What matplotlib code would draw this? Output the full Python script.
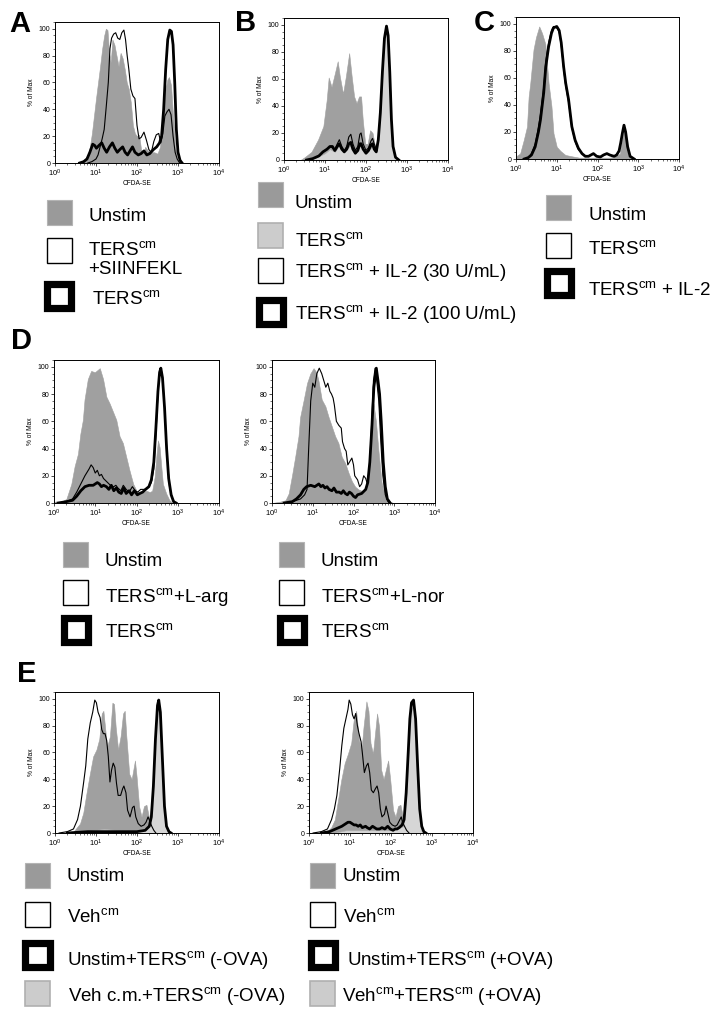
import numpy as np
import matplotlib
matplotlib.use("Agg")
import matplotlib.pyplot as plt
from matplotlib.patches import Rectangle
from matplotlib.ticker import LogLocator, LogFormatterMathtext, MultipleLocator, NullFormatter

W, H = 715, 1013

DARK = "#a0a0a0"      # Unstim fill
DARK_SQ = "#9a9a9a"
LIGHT = "#d6d6d6"     # light gray fill
LIGHT_EDGE = "#b0b0b0"

plt.rcParams.update(
    {
        "font.family": ["Liberation Sans", "DejaVu Sans"],
        "mathtext.fontset": "custom",
        "mathtext.rm": "Liberation Sans",
        "mathtext.it": "Liberation Sans:italic",
        "mathtext.bf": "Liberation Sans:bold",
        "axes.linewidth": 0.7,
        "xtick.direction": "out",
        "ytick.direction": "out",
    }
)

# ---- data: log10(CFDA-SE) positions and % of Max values ----
# A
A_UNSTIM_LX = [0.55, 0.65, 0.73, 0.8, 0.85, 0.9, 0.95, 1.0, 1.05, 1.1, 1.15, 1.2, 1.24, 1.28, 1.32, 1.36, 1.4,
               1.45, 1.5, 1.55, 1.6, 1.65, 1.7, 1.75, 1.8, 1.85, 1.9, 1.95, 2.0, 2.05, 2.1, 2.15, 2.2, 2.27,
               2.35, 2.42, 2.5, 2.56, 2.62, 2.68, 2.74, 2.78, 2.83, 2.88, 2.93, 2.98, 3.05]
A_UNSTIM_Y = [0, 1, 3, 6, 12, 22, 35, 48, 60, 72, 85, 95, 100, 99, 82, 75, 92, 88, 80, 72, 82, 78, 70, 60, 55,
              45, 28, 22, 20, 21, 10, 7, 12, 9, 8, 8, 7, 12, 28, 52, 62, 64, 58, 35, 12, 3, 0]
A_THIN_LX = [0.8, 0.9, 1.0, 1.05, 1.1, 1.15, 1.2, 1.25, 1.3, 1.34, 1.38, 1.43, 1.48, 1.53, 1.58, 1.63, 1.68,
             1.72, 1.76, 1.8, 1.85, 1.9, 1.95, 2.0, 2.05, 2.1, 2.17, 2.23, 2.29, 2.35, 2.41, 2.47, 2.53, 2.58,
             2.63, 2.68, 2.73, 2.78, 2.83, 2.88, 2.93, 2.98, 3.04]
A_THIN_Y = [0, 1, 3, 6, 12, 18, 25, 42, 60, 85, 93, 96, 97, 93, 92, 97, 99, 92, 80, 70, 55, 50, 48, 28, 18, 19,
            23, 17, 10, 8, 16, 21, 22, 15, 22, 35, 38, 40, 36, 20, 8, 3, 0]
A_THICK_LX = [0.6, 0.7, 0.78, 0.85, 0.92, 0.97, 1.01, 1.07, 1.14, 1.2, 1.26, 1.33, 1.4, 1.46, 1.52, 1.58, 1.65,
              1.71, 1.77, 1.83, 1.89, 1.95, 2.03, 2.1, 2.17, 2.24, 2.31, 2.4, 2.48, 2.55, 2.6, 2.65, 2.7, 2.75,
              2.8, 2.84, 2.88, 2.92, 2.96, 3.0, 3.05, 3.1]
A_THICK_Y = [0, 1, 3, 8, 14, 13, 11, 13, 15, 11, 8, 12, 15, 11, 8, 10, 12, 8, 6, 9, 12, 8, 6, 7, 9, 6, 7, 10,
             12, 15, 20, 40, 70, 92, 99, 98, 88, 60, 25, 8, 2, 0]

# B
B_UNSTIM_LX = [0.4, 0.5, 0.67, 0.83, 0.96, 1.04, 1.09, 1.16, 1.24, 1.31, 1.36, 1.44, 1.51, 1.59, 1.65, 1.71,
               1.77, 1.83, 1.88, 1.92, 1.98, 2.04, 2.1, 2.16, 2.22, 2.3, 2.36, 2.42]
B_UNSTIM_Y = [0, 2, 6, 15, 25, 44, 61, 54, 64, 73, 62, 49, 62, 79, 62, 47, 42, 47, 47, 30, 12, 12, 22, 20, 10,
              10, 5, 0]
B_TERS_LX = [0.6, 0.8, 1.0, 1.12, 1.24, 1.35, 1.47, 1.63, 1.74, 1.87, 2.0, 2.16, 2.25, 2.3, 2.35, 2.4, 2.45,
             2.5, 2.54, 2.58, 2.62, 2.66, 2.72, 2.8]
B_TERS_Y = [0, 2, 5, 8, 6, 11, 6, 11, 6, 11, 5, 10, 6, 14, 33, 63, 88, 97, 90, 62, 28, 9, 2, 0]
B_IL30_LX = [0.55, 0.7, 0.85, 0.95, 1.05, 1.12, 1.18, 1.24, 1.3, 1.35, 1.41, 1.47, 1.53, 1.58, 1.63, 1.68,
             1.74, 1.8, 1.85, 1.88, 1.93, 2.0, 2.06, 2.12, 2.16, 2.2, 2.25, 2.3, 2.35, 2.4, 2.45, 2.5, 2.54,
             2.58, 2.62, 2.66, 2.72, 2.8]
B_IL30_Y = [0, 1, 3, 6, 8, 10, 9, 8, 12, 15, 10, 7, 10, 17, 19, 12, 7, 10, 19, 20, 12, 7, 9, 14, 16, 12, 8, 15,
            35, 65, 90, 98, 92, 65, 30, 10, 2, 0]
B_IL100_LX = B_IL30_LX
B_IL100_Y = [0, 1, 3, 6, 8, 10, 10, 7, 10, 12, 8, 6, 8, 12, 13, 8, 5, 7, 12, 12, 8, 5, 7, 11, 12, 8, 6, 15, 35,
             65, 90, 99, 92, 65, 30, 10, 2, 0]

# C
C_UNSTIM_LX = [0.0, 0.1, 0.19, 0.27, 0.31, 0.35, 0.43, 0.49, 0.57, 0.64, 0.72, 0.8, 0.87, 0.92, 1.0, 1.09,
               1.21, 1.37, 1.55, 1.75, 1.9, 2.1, 2.3, 2.45, 2.55, 2.6, 2.65, 2.7, 2.75, 2.82]
C_UNSTIM_Y = [2, 4, 14, 24, 46, 56, 81, 90, 98, 93, 85, 56, 39, 19, 9, 6, 3, 2, 1, 1, 1, 1, 1, 2, 4, 14, 21,
              12, 3, 0]
C_LX = [0.2, 0.3, 0.38, 0.47, 0.55, 0.6, 0.68, 0.73, 0.8, 0.87, 0.92, 1.0, 1.06, 1.11, 1.17, 1.22, 1.29, 1.37,
        1.45, 1.53, 1.62, 1.7, 1.78, 1.84, 1.9, 1.98, 2.07, 2.15, 2.23, 2.3, 2.35, 2.41, 2.47, 2.53, 2.57, 2.61,
        2.65, 2.69, 2.74, 2.8, 2.9]
C_TERS_Y = [0, 1, 4, 11, 23, 33, 53, 72, 86, 95, 98, 97, 94, 84, 66, 54, 42, 23, 13, 7, 4, 2, 2, 3, 4, 2, 1.5,
            3, 4, 3, 2.5, 2, 3, 6, 12, 19, 24, 19, 8, 2, 0]
C_IL2_Y = [0, 1, 3, 9, 20, 29, 49, 68, 83, 93, 97, 98, 95, 86, 68, 56, 44, 24, 14, 8, 4, 2, 2, 3, 4, 2, 1.5, 3,
           4, 3, 2.5, 2, 3, 6, 12, 19, 25, 20, 9, 2, 0]

# D (left: L-arg, right: L-nor)
D1_UNSTIM_LX = [0.0, 0.18, 0.3, 0.42, 0.5, 0.58, 0.64, 0.7, 0.74, 0.82, 0.9, 0.99, 1.07, 1.11, 1.19, 1.27,
                1.35, 1.43, 1.51, 1.59, 1.67, 1.75, 1.83, 1.92, 2.0, 2.08, 2.16, 2.24, 2.32, 2.38, 2.44, 2.48,
                2.52, 2.56, 2.6, 2.64, 2.72, 2.8, 2.88]
D1_UNSTIM_Y = [1, 1, 3, 14, 27, 36, 51, 61, 76, 91, 97, 96, 98, 99, 91, 78, 73, 67, 61, 49, 44, 34, 24, 14, 9,
               7, 8, 9, 8, 9, 19, 34, 46, 41, 27, 14, 7, 2, 0]
D1_LARG_LX = [0.1, 0.3, 0.45, 0.55, 0.65, 0.75, 0.85, 0.9, 0.95, 1.0, 1.05, 1.1, 1.15, 1.2, 1.3, 1.4, 1.45,
              1.5, 1.55, 1.62, 1.68, 1.75, 1.82, 1.9, 1.97, 2.03, 2.1, 2.2, 2.3, 2.36, 2.42, 2.47, 2.52, 2.56,
              2.6, 2.64, 2.69, 2.74, 2.8, 2.88, 2.95]
D1_LARG_Y = [0, 1, 3, 8, 14, 20, 25, 28, 26, 22, 24, 20, 21, 18, 15, 12, 12, 13, 11, 9, 13, 10, 8, 12, 9, 8, 10,
             10, 12, 15, 25, 50, 80, 96, 98, 90, 65, 35, 12, 2, 0]
D1_TERS_LX = [0.1, 0.3, 0.45, 0.55, 0.65, 0.75, 0.85, 0.95, 1.0, 1.05, 1.1, 1.15, 1.2, 1.27, 1.33, 1.39, 1.45,
              1.51, 1.57, 1.63, 1.69, 1.75, 1.82, 1.88, 1.95, 2.02, 2.08, 2.15, 2.22, 2.3, 2.36, 2.42, 2.47,
              2.52, 2.56, 2.59, 2.63, 2.68, 2.73, 2.78, 2.84, 2.9, 2.96]
D1_TERS_Y = [0, 1, 2, 5, 9, 12, 13, 13, 14, 15, 14, 12, 13, 12, 10, 13, 9, 11, 8, 7, 11, 7, 9, 6, 9, 6, 7, 8,
             10, 12, 17, 30, 55, 82, 96, 99, 92, 70, 40, 18, 6, 1, 0]

D2_UNSTIM_LX = [0.0, 0.2, 0.33, 0.41, 0.49, 0.57, 0.65, 0.69, 0.78, 0.86, 0.94, 1.02, 1.09, 1.14, 1.22, 1.31,
                1.39, 1.47, 1.55, 1.63, 1.71, 1.8, 1.88, 1.96, 2.04, 2.12, 2.2, 2.29, 2.35, 2.41, 2.45, 2.49,
                2.55, 2.61, 2.69, 2.78, 2.9, 2.98]
D2_UNSTIM_Y = [0, 1, 2, 7, 20, 34, 49, 63, 76, 88, 95, 99, 96, 90, 76, 71, 63, 56, 49, 44, 34, 29, 22, 16, 12,
               10, 9, 10, 20, 39, 62, 73, 60, 39, 15, 5, 1, 0]
D2_LNOR_LX = [0.3, 0.5, 0.7, 0.8, 0.86, 0.9, 0.95, 1.0, 1.05, 1.1, 1.16, 1.22, 1.27, 1.32, 1.37, 1.42, 1.46,
              1.5, 1.53, 1.58, 1.64, 1.7, 1.73, 1.78, 1.82, 1.86, 1.9, 1.96, 2.0, 2.03, 2.1, 2.15, 2.2, 2.25,
              2.3, 2.34, 2.39, 2.44, 2.49, 2.53, 2.57, 2.62, 2.67, 2.72, 2.78, 2.85, 2.9]
D2_LNOR_Y = [0, 1, 3, 6, 10, 40, 75, 88, 85, 95, 99, 95, 90, 85, 88, 82, 80, 77, 72, 60, 57, 55, 45, 40, 38, 28,
             30, 33, 28, 20, 17, 12, 14, 20, 18, 14, 25, 55, 90, 99, 90, 75, 45, 20, 6, 1, 0]
D2_TERS_LX = [0.3, 0.5, 0.6, 0.7, 0.78, 0.85, 0.95, 1.05, 1.15, 1.2, 1.25, 1.3, 1.35, 1.4, 1.47, 1.52, 1.58,
              1.65, 1.7, 1.75, 1.8, 1.85, 1.9, 1.95, 2.0, 2.05, 2.1, 2.2, 2.3, 2.35, 2.4, 2.45, 2.5, 2.56, 2.6,
              2.64, 2.68, 2.73, 2.78, 2.83, 2.9]
D2_TERS_Y = [0, 1, 3, 6, 10, 12, 13, 12, 14, 12, 13, 11, 12, 10, 9, 11, 8, 8, 7, 9, 7, 6, 8, 7, 5, 4, 6, 7, 10,
             15, 30, 55, 85, 99, 90, 80, 60, 30, 12, 3, 0]

# E (left: -OVA, right: +OVA)
E1_UNSTIM_LX = [0.28, 0.45, 0.61, 0.69, 0.77, 0.85, 0.93, 1.01, 1.08, 1.14, 1.18, 1.22, 1.27, 1.34, 1.4, 1.44,
                1.48, 1.54, 1.6, 1.66, 1.7, 1.74, 1.81, 1.87, 1.91, 1.95, 1.99, 2.05, 2.11, 2.17, 2.23, 2.29,
                2.35, 2.43, 2.52]
E1_UNSTIM_Y = [0, 1, 7, 15, 30, 44, 57, 62, 70, 89, 91, 79, 64, 72, 97, 96, 79, 62, 72, 89, 91, 72, 44, 40, 47,
               54, 42, 20, 12, 20, 21, 12, 5, 2, 0]
E1_VEH_LX = [0.1, 0.3, 0.45, 0.55, 0.62, 0.7, 0.75, 0.8, 0.86, 0.92, 0.97, 1.01, 1.05, 1.1, 1.14, 1.18, 1.22,
             1.26, 1.3, 1.34, 1.38, 1.42, 1.46, 1.5, 1.54, 1.6, 1.65, 1.68, 1.73, 1.77, 1.83, 1.89, 1.93, 1.97,
             2.03, 2.1, 2.17, 2.22, 2.27, 2.31, 2.36, 2.41, 2.46]
E1_VEH_Y = [0, 1, 3, 10, 20, 38, 50, 70, 82, 90, 99, 97, 90, 86, 77, 74, 74, 69, 57, 38, 47, 52, 49, 37, 28, 28,
            33, 35, 30, 17, 12, 19, 20, 12, 7, 5, 6, 8, 12, 9, 5, 2, 0]
E1_TERS_LX = [0.3, 0.8, 1.5, 2.0, 2.2, 2.3, 2.35, 2.4, 2.45, 2.5, 2.53, 2.57, 2.62, 2.67, 2.72, 2.78, 2.83]
E1_TERS_Y = [0, 1, 1, 1, 2, 5, 12, 35, 70, 95, 99, 90, 55, 20, 5, 1, 0]
E1_VEHTERS_LX = [0.6, 0.9, 1.2, 1.6, 2.0, 2.25, 2.32, 2.38, 2.44, 2.5, 2.55, 2.6, 2.65, 2.7, 2.76]
E1_VEHTERS_Y = [0, 2, 3, 2, 2, 4, 12, 38, 75, 93, 88, 55, 20, 5, 0]

E2_UNSTIM_LX = [0.26, 0.42, 0.54, 0.63, 0.71, 0.79, 0.87, 0.95, 1.03, 1.09, 1.15, 1.22, 1.28, 1.33, 1.4, 1.45,
                1.5, 1.56, 1.61, 1.66, 1.71, 1.76, 1.82, 1.89, 1.93, 1.98, 2.05, 2.11, 2.17, 2.23, 2.29, 2.36,
                2.44, 2.54]
E2_UNSTIM_Y = [0, 1, 4, 10, 25, 40, 52, 59, 67, 84, 91, 69, 62, 79, 98, 91, 67, 59, 74, 89, 79, 47, 40, 49, 54,
               40, 17, 12, 20, 21, 12, 5, 2, 0]
E2_VEH_LX = [0.1, 0.3, 0.45, 0.55, 0.62, 0.68, 0.75, 0.8, 0.85, 0.9, 0.95, 0.98, 1.02, 1.06, 1.1, 1.14, 1.18,
             1.22, 1.27, 1.3, 1.35, 1.4, 1.44, 1.48, 1.52, 1.57, 1.62, 1.66, 1.7, 1.74, 1.78, 1.84, 1.88, 1.92,
             1.97, 2.03, 2.1, 2.15, 2.2, 2.25, 2.28, 2.33, 2.38, 2.44]
E2_VEH_Y = [0, 1, 3, 10, 18, 28, 48, 65, 78, 85, 92, 99, 96, 88, 85, 89, 80, 74, 68, 60, 45, 50, 52, 45, 32, 30,
            33, 35, 30, 18, 12, 14, 20, 15, 8, 6, 5, 6, 9, 12, 8, 5, 2, 0]
E2_TERS_LX = [0.3, 0.5, 0.65, 0.8, 0.9, 0.95, 1.0, 1.05, 1.1, 1.15, 1.2, 1.25, 1.3, 1.38, 1.42, 1.48, 1.55, 1.6,
              1.65, 1.72, 1.78, 1.85, 1.92, 1.98, 2.05, 2.1, 2.15, 2.2, 2.27, 2.32, 2.37, 2.42, 2.46, 2.5, 2.55,
              2.6, 2.65, 2.7, 2.75, 2.8, 2.85]
E2_TERS_Y = [0, 1, 3, 5, 7, 8, 8, 7, 6, 6, 5, 6, 4, 5, 4, 3, 5, 4, 3, 3, 4, 3, 5, 3, 2, 3, 3, 4, 6, 10, 30, 60,
             85, 97, 99, 85, 50, 18, 5, 1, 0]
E2_VEHTERS_LX = [0.6, 0.9, 1.3, 2.0, 2.3, 2.38, 2.44, 2.5, 2.55, 2.6, 2.65, 2.7, 2.75, 2.8]
E2_VEHTERS_Y = [0, 2, 2, 2, 5, 30, 70, 92, 95, 75, 35, 8, 1, 0]

SUP = r"TERS$^{\mathrm{cm}}$"
VEH = r"Veh$^{\mathrm{cm}}$"


def fx(px):
    return px / W


def fy(py):
    return 1 - py / H


def make_ax(fig, left, top, right, bottom):
    ax = fig.add_axes([fx(left), fy(bottom), (right - left) / W, (bottom - top) / H])
    ax.set_xscale("log")
    ax.set_xlim(1, 1e4)
    ax.set_ylim(0, 105)
    ax.xaxis.set_major_locator(LogLocator(base=10, numticks=10))
    ax.xaxis.set_minor_locator(LogLocator(base=10, subs=np.arange(2, 10), numticks=50))
    ax.xaxis.set_major_formatter(LogFormatterMathtext())
    ax.xaxis.set_minor_formatter(NullFormatter())
    ax.yaxis.set_major_locator(MultipleLocator(20))
    ax.yaxis.set_minor_locator(MultipleLocator(5))
    ax.tick_params(axis="x", which="major", labelsize=5.5, length=2.2, width=0.5, pad=1.5)
    ax.tick_params(axis="y", which="major", labelsize=5, length=2.2, width=0.5, pad=1)
    ax.tick_params(which="minor", length=1.2, width=0.4)
    ax.set_xlabel("CFDA-SE", fontsize=4.8, labelpad=0.5)
    ax.set_ylabel("% of Max", fontsize=4.8, labelpad=3)
    return ax


def fill(ax, lx, y, face, edge=None):
    ax.fill_between(10 ** np.asarray(lx), 0, y, facecolor=face, edgecolor=edge or face, lw=0.4)


def line(ax, lx, y, lw):
    ax.plot(10 ** np.asarray(lx), y, color="black", lw=lw, solid_joinstyle="round")


def square(fig, cx, cy, kind):
    if kind == "thick":
        s = 24
        kw = dict(facecolor="white", edgecolor="black", lw=5.2)
    elif kind == "thin":
        s = 25
        kw = dict(facecolor="white", edgecolor="black", lw=1.0)
    elif kind == "light":
        s = 25
        kw = dict(facecolor="#cccccc", edgecolor=LIGHT_EDGE, lw=1.2)
    else:
        s = 25
        kw = dict(facecolor=DARK_SQ, edgecolor="#b4b4b4", lw=0.8)
    fig.add_artist(Rectangle((fx(cx - s / 2), fy(cy + s / 2)), s / W, s / H,
                             transform=fig.transFigure, **kw))


def legend(fig, entries):
    for kind, cx, cy, label, tx, base in entries:
        square(fig, cx, cy, kind)
        fig.text(fx(tx), fy(base), label, fontsize=13.5, va="baseline", ha="left")


fig = plt.figure(figsize=(W / 100, H / 100), dpi=100)

# panel A
ax = make_ax(fig, 55, 22, 219, 163)
fill(ax, A_UNSTIM_LX, A_UNSTIM_Y, DARK)
line(ax, A_THIN_LX, A_THIN_Y, 0.8)
line(ax, A_THICK_LX, A_THICK_Y, 2.0)

# panel B
ax = make_ax(fig, 284, 18, 448, 160)
fill(ax, B_UNSTIM_LX, B_UNSTIM_Y, DARK)
fill(ax, B_TERS_LX, B_TERS_Y, LIGHT, LIGHT_EDGE)
line(ax, B_IL30_LX, B_IL30_Y, 0.8)
line(ax, B_IL100_LX, B_IL100_Y, 2.0)

# panel C
ax = make_ax(fig, 516, 17, 679, 159)
fill(ax, C_UNSTIM_LX, C_UNSTIM_Y, DARK)
line(ax, C_LX, C_TERS_Y, 0.8)
line(ax, C_LX, C_IL2_Y, 2.0)

# panel D
ax = make_ax(fig, 54, 360, 219, 503)
fill(ax, D1_UNSTIM_LX, D1_UNSTIM_Y, DARK)
line(ax, D1_LARG_LX, D1_LARG_Y, 0.8)
line(ax, D1_TERS_LX, D1_TERS_Y, 2.0)

ax = make_ax(fig, 272, 360, 435, 503)
fill(ax, D2_UNSTIM_LX, D2_UNSTIM_Y, DARK)
line(ax, D2_LNOR_LX, D2_LNOR_Y, 0.8)
line(ax, D2_TERS_LX, D2_TERS_Y, 2.0)

# panel E
ax = make_ax(fig, 55, 692, 219, 833)
fill(ax, E1_UNSTIM_LX, E1_UNSTIM_Y, DARK)
fill(ax, E1_VEHTERS_LX, E1_VEHTERS_Y, LIGHT, LIGHT_EDGE)
line(ax, E1_VEH_LX, E1_VEH_Y, 0.8)
line(ax, E1_TERS_LX, E1_TERS_Y, 2.0)

ax = make_ax(fig, 309, 692, 473, 833)
fill(ax, E2_UNSTIM_LX, E2_UNSTIM_Y, DARK)
fill(ax, E2_VEHTERS_LX, E2_VEHTERS_Y, LIGHT, LIGHT_EDGE)
line(ax, E2_VEH_LX, E2_VEH_Y, 0.8)
line(ax, E2_TERS_LX, E2_TERS_Y, 2.0)

# legends
legend(fig, [
    ("dark", 59.5, 212.5, "Unstim", 88, 221),
    ("thin", 59.5, 250.5, SUP, 88, 255),
    ("thick", 59, 296.5, SUP, 92, 304),
])
fig.text(fx(88), fy(274), "+SIINFEKL", fontsize=13.5, va="baseline", ha="left")

legend(fig, [
    ("dark", 270.5, 195, "Unstim", 295, 208),
    ("light", 270.5, 236, SUP, 295, 246),
    ("thin", 270.5, 270.5, SUP + " + IL-2 (30 U/mL)", 295, 277),
    ("thick", 271, 312, SUP + " + IL-2 (100 U/mL)", 295, 319),
])

legend(fig, [
    ("dark", 558.5, 207.5, "Unstim", 588, 220),
    ("thin", 558.5, 245.5, SUP, 588, 254),
    ("thick", 558.5, 283.5, SUP + " + IL-2", 588, 295),
])

legend(fig, [
    ("dark", 75.5, 554.5, "Unstim", 105, 566),
    ("thin", 75.5, 592, SUP + "+L-arg", 105, 602),
    ("thick", 76, 629.5, SUP, 105, 637),
])
legend(fig, [
    ("dark", 291, 554.5, "Unstim", 321, 566),
    ("thin", 291, 592, SUP + "+L-nor", 321, 602),
    ("thick", 292, 629.5, SUP, 321, 637),
])

legend(fig, [
    ("dark", 37.5, 875.5, "Unstim", 67, 881),
    ("thin", 37.5, 914.5, VEH, 67, 922),
    ("thick", 37.5, 955, "Unstim+" + SUP + " (-OVA)", 67, 965),
    ("light", 37.5, 993.5, "Veh c.m.+" + SUP + " (-OVA)", 68, 1001),
])
legend(fig, [
    ("dark", 322.5, 875.5, "Unstim", 343, 881),
    ("thin", 322.5, 914.5, VEH, 343, 922),
    ("thick", 322.5, 955, "Unstim+" + SUP + " (+OVA)", 347, 965),
    ("light", 322.5, 993.5, VEH + "+" + SUP + " (+OVA)", 342, 1001),
])

# panel letters
for letter, x, base in [("A", 9, 32), ("B", 235, 31), ("C", 474, 31), ("D", 11, 349), ("E", 17, 682)]:
    fig.text(fx(x), fy(base), letter, fontsize=21, fontweight="bold", va="baseline", ha="left")

fig.savefig("out.png", dpi=100)
